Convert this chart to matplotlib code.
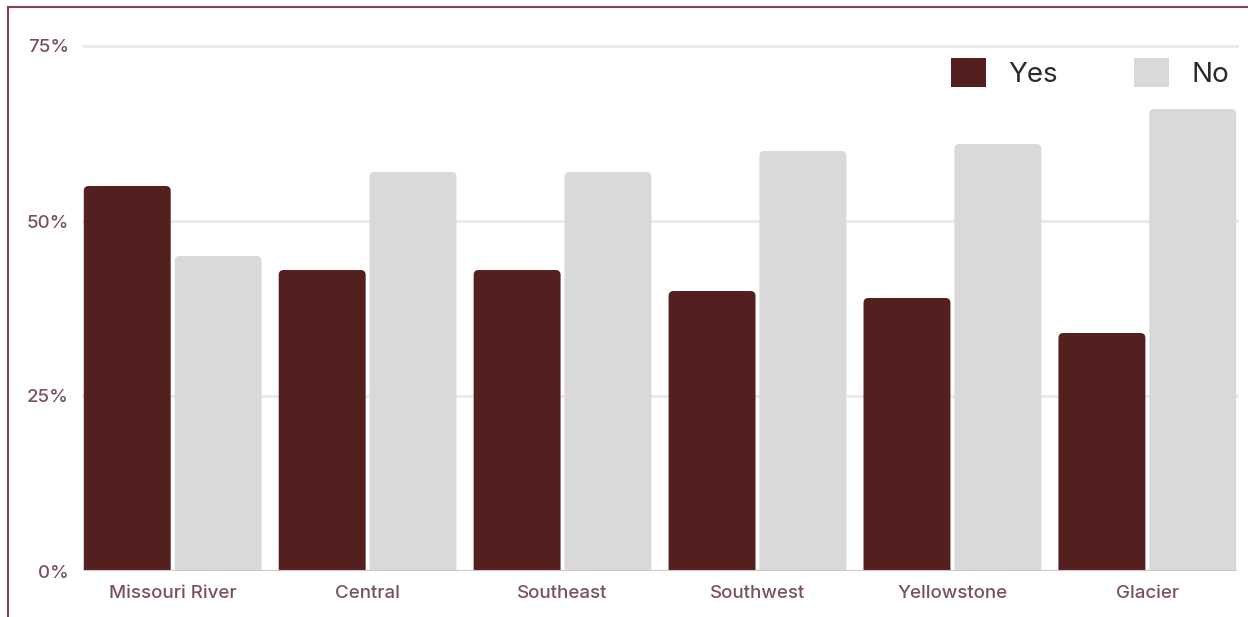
import numpy as np
import matplotlib.pyplot as plt
from matplotlib.patches import FancyBboxPatch, Patch
from matplotlib.lines import Line2D

plt.rcParams['font.family'] = ['Inter', 'DejaVu Sans']

regions = ['Missouri River', 'Central', 'Southeast', 'Southwest', 'Yellowstone', 'Glacier']
yes_pct = [55, 43, 43, 40, 39, 34]
no_pct = [45, 57, 57, 60, 61, 66]
yticks = [0, 25, 50, 75]

yes_color = '#531f1f'
no_color = '#d9d9d9'
label_color = '#7a5258'
border_color = '#8e3f52'

W, H = 1248, 617
fig = plt.figure(figsize=(W / 100, H / 100), dpi=100)
# axes spans the bar groups, baseline at y=571px, 7px per percent
ax = fig.add_axes([83 / W, (H - 571) / H, (1237 - 83) / W, 78 * 7 / H])

x = np.arange(len(regions))
bw = 0.446
off = 0.233
bars_yes = ax.bar(x - off, yes_pct, bw, color=yes_color)
bars_no = ax.bar(x + off, no_pct, bw, color=no_color)

ax.set_xlim(-0.46, 5.46)
ax.set_ylim(0, 78)

# swap plain rectangles for ones with slightly rounded tops
px_x = 1 / 195.0
px_y = 1 / 7.0
for bars in (bars_yes, bars_no):
    for r in bars:
        bx, by = r.get_x(), r.get_y()
        w, h = r.get_width(), r.get_height()
        rr = FancyBboxPatch((bx, by - 2), w, h + 2,
                            boxstyle='round,pad=0,rounding_size=%f' % (5 * px_x),
                            mutation_aspect=px_y / px_x,
                            facecolor=r.get_facecolor(), edgecolor='none', zorder=2)
        r.set_visible(False)
        ax.add_patch(rr)

for t in yticks[1:]:
    ax.axhline(t, color='#efe6e8', lw=2, zorder=1, clip_on=False)
ax.axhline(0, color='#d8c4c8', lw=1.5, zorder=3)

for s in ax.spines.values():
    s.set_visible(False)
ax.set_yticks(yticks)
ax.set_yticklabels(['%d%%' % t for t in yticks])
ax.set_xticks(x)
ax.set_xticklabels(regions)
ax.tick_params(axis='both', length=0, labelsize=13.5, colors=label_color)
ax.tick_params(axis='y', pad=10)
ax.tick_params(axis='x', pad=10)
for lbl in ax.get_xticklabels() + ax.get_yticklabels():
    lbl.set_fontweight('medium')

handles = [Patch(facecolor=yes_color, label='Yes'), Patch(facecolor=no_color, label='No')]
fig.legend(handles=handles, loc='center right', bbox_to_anchor=(1229 / W, (H - 73) / H),
           ncol=2, frameon=False, fontsize=20, handlelength=1.25, handleheight=1.25,
           handletextpad=0.8, columnspacing=2.75, borderpad=0, borderaxespad=0,
           labelcolor='#2b2b2b')

# outer frame: top and left edges only
fig.add_artist(Line2D([8 / W, 1], [1 - 6.5 / H, 1 - 6.5 / H], color=border_color, lw=1.5))
fig.add_artist(Line2D([8 / W, 8 / W], [0, 1 - 6.5 / H], color=border_color, lw=1.5))

fig.savefig('out.png', dpi=100)
